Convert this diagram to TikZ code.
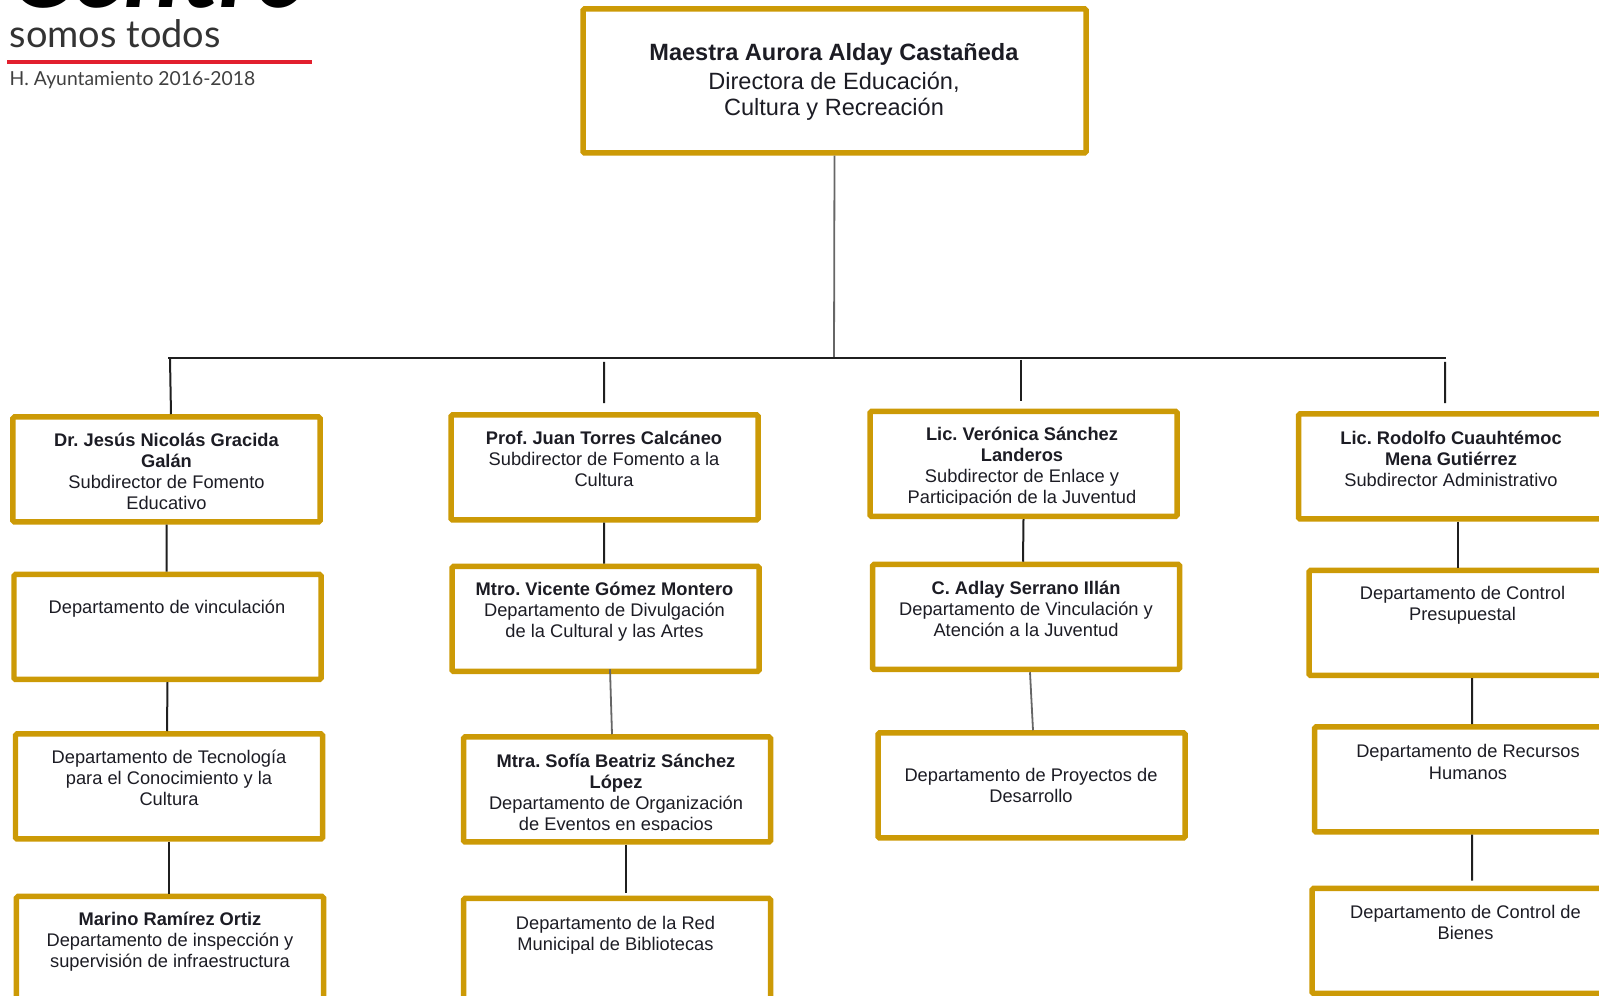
\documentclass[tikz,border=0pt]{standalone}
\usepackage{fontspec}
\setmainfont{Liberation Sans}
\newfontfamily\logofont{Lato}
\usepackage{tikz}
\definecolor{boxgold}{HTML}{CC9A06}
\definecolor{logored}{HTML}{E2202E}
\definecolor{inkgray}{HTML}{1C1C24}
\tikzset{
	orgbox/.style={draw=boxgold, line width=.055cm, rounded corners=.4pt, minimum width=3.07cm, minimum height=1.05cm},
	orgtext/.style={align=center, inner sep=0pt, text=inkgray, font=\fontsize{5.2}{6}\selectfont},
	link/.style={draw=black!88, line width=.02cm},
	graylink/.style={draw=black!60, line width=.018cm},
}

\begin{document}
\frenchspacing
\begin{tikzpicture}[]
	%\draw[help lines, thick] (0,0) grid (16,10);
	\useasboundingbox (0,0) rectangle (15.99,9.96);
	\clip (0,0) rectangle (15.99,9.96);
	% logo
	\draw (.09,9.88) node [anchor=base west, inner sep=0pt, font=\logofont\fontsize{30}{30}\selectfont\bfseries\itshape] (logoname) {Centro};
	\draw (.09,9.48) node [anchor=base west, inner sep=0pt, text=black!80, font=\logofont\fontsize{10.8}{12}\selectfont] (logoline) {somos todos};
	\draw (.09,9.1) node [anchor=base west, inner sep=0pt, text=black!75, font=\logofont\fontsize{5.5}{6}\selectfont] (logoyear) {H. Ayuntamiento 2016-2018};
	\coordinate (rulel) at (.07,9.34);
	\coordinate (ruler) at (3.12,9.34);
	\draw[logored, line width=.045cm] (rulel) -- (ruler);
	% boxes
	\draw (8.345,9.15) node [orgbox, minimum width=5.03cm, minimum height=1.44cm] (top) {};
	\draw (1.665,5.265) node [orgbox] (suba) {};
	\draw (1.675,3.69) node [orgbox] (depa) {};
	\draw (1.69,2.095) node [orgbox] (tec) {};
	\draw (1.7,.47) node [orgbox] (insp) {};
	\draw (6.045,5.285) node [orgbox] (subb) {};
	\draw (6.055,3.77) node [orgbox] (divu) {};
	\draw (6.17,2.065) node [orgbox] (even) {};
	\draw (6.17,.45) node [orgbox] (bibl) {};
	\draw (10.235,5.32) node [orgbox] (subc) {};
	\draw (10.26,3.79) node [orgbox] (juve) {};
	\draw (10.315,2.105) node [orgbox] (proy) {};
	\draw (14.52,5.295) node [orgbox] (subd) {};
	\draw (14.625,3.73) node [orgbox] (pres) {};
	\draw (14.68,2.165) node [orgbox] (recu) {};
	\draw (14.655,.55) node [orgbox] (bien) {};
	% texts
	\draw (8.34,9.14) node [orgtext, font=\fontsize{6.7}{7.4}\selectfont] (toptxt) {\textbf{Maestra Aurora Alday Castañeda}\\[1pt]Directora de Educación,\\Cultura y Recreación};
	\draw (1.665,5.243) node [orgtext] (subatxt) {\textbf{Dr. Jesús Nicolás Gracida}\\\textbf{Galán}\\Subdirector de Fomento\\Educativo};
	\draw (1.67,3.87) node [orgtext] (depatxt) {Departamento de vinculación};
	\draw (1.69,2.18) node [orgtext] (tectxt) {Departamento de Tecnología\\para el Conocimiento y la\\Cultura};
	\draw (1.7,.54) node [orgtext] (insptxt) {\textbf{Marino Ramírez Ortiz}\\Departamento de inspección y\\supervisión de infraestructura};
	\draw (6.04,5.37) node [orgtext] (subbtxt) {\textbf{Prof. Juan Torres Calcáneo}\\Subdirector de Fomento a la\\Cultura};
	\draw (6.045,3.845) node [orgtext] (divutxt) {\textbf{Mtro. Vicente Gómez Montero}\\Departamento de Divulgación\\de la Cultural y las Artes};
	\draw (6.155,.604) node [orgtext] (bibltxt) {Departamento de la Red\\Municipal de Bibliotecas};
	\draw (10.26,3.87) node [orgtext] (juvetxt) {\textbf{C. Adlay Serrano Illán}\\Departamento de Vinculación y\\Atención a la Juventud};
	\draw (10.31,2.102) node [orgtext] (proytxt) {Departamento de Proyectos de\\Desarrollo};
	\draw (14.51,5.37) node [orgtext] (subdtxt) {\textbf{Lic. Rodolfo Cuauhtémoc}\\\textbf{Mena Gutiérrez}\\Subdirector Administrativo};
	\draw (14.625,3.91) node [orgtext] (prestxt) {Departamento de Control\\Presupuestal};
	\draw (14.68,2.34) node [orgtext] (recutxt) {Departamento de Recursos\\Humanos};
	\draw (14.655,.736) node [orgtext] (bientxt) {Departamento de Control de\\Bienes};
	% these two are cut off at the foot
	\begin{scope}
		\clip (4.7,1.655) rectangle (7.7,2.6);
		\draw (6.16,2.016) node [orgtext] (eventxt) {\textbf{Mtra. Sofía Beatriz Sánchez}\\\textbf{López}\\Departamento de Organización\\de Eventos en espacios};
	\end{scope}
	\begin{scope}
		\clip (8.8,4.915) rectangle (11.7,5.8);
		\draw (10.22,5.285) node [orgtext] (subctxt) {\textbf{Lic. Verónica Sánchez}\\\textbf{Landeros}\\Subdirector de Enlace y\\Participación de la Juventud};
	\end{scope}
	% bar
	\coordinate (trunk) at (8.34,6.375);
	\coordinate (barl) at (1.68,6.375);
	\coordinate (barr) at (14.46,6.375);
	\coordinate (dropa) at (1.7,6.37);
	\coordinate (dropb) at (6.04,6.34);
	\coordinate (dropc) at (10.21,6.36);
	\coordinate (dropd) at (14.45,6.34);
	\draw[graylink] (top.south) -- (trunk);
	\draw[link] (barl) -- (barr);
	\draw[link] (dropa) -- ([xshift=.045cm]suba.north);
	\draw[link, shorten >=.09cm] (dropb) -- ([xshift=-.005cm]subb.north);
	\draw[link, shorten >=.08cm] (dropc) -- ([xshift=-.025cm]subc.north);
	\draw[link, shorten >=.08cm] (dropd) -- ([xshift=-.07cm]subd.north);
	% first column
	\draw[link] (suba.south) -- ([xshift=-.01cm]depa.north);
	\draw[link] (depa.south) -- ([xshift=-.02cm]tec.north);
	\draw[link] (tec.south) -- ([xshift=-.01cm]insp.north);
	% second column
	\draw[link] ([xshift=-.005cm]subb.south) -- ([xshift=-.015cm]divu.north);
	\draw[graylink] ([xshift=.045cm,yshift=.05cm]divu.south) -- ([xshift=-.05cm]even.north);
	\draw[link, shorten >=.03cm] ([xshift=.09cm]even.south) -- ([xshift=.09cm]bibl.north);
	% third column
	\draw[link] (subc.south) -- ([xshift=-.03cm]juve.north);
	\draw[graylink] ([xshift=.04cm]juve.south) -- ([xshift=.015cm]proy.north);
	% fourth column
	\draw[link] ([xshift=.06cm]subd.south) -- ([xshift=-.045cm]pres.north);
	\draw[link] ([xshift=.095cm]pres.south) -- ([xshift=.04cm]recu.north);
	\draw[link, shorten >=.05cm] ([xshift=.04cm]recu.south) -- ([xshift=.065cm]bien.north);
\end{tikzpicture}
\end{document}
